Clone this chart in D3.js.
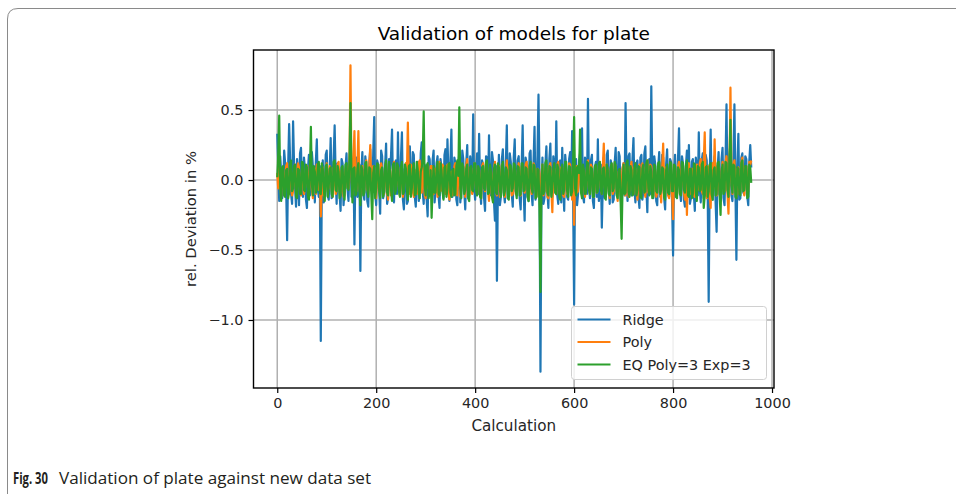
<!DOCTYPE html>
<html>
<head>
<meta charset="utf-8">
<script src="https://cdn.jsdelivr.net/npm/d3@7/dist/d3.min.js"></script>
<style>
  html, body { margin: 0; padding: 0; background: #fff; }
  svg { display: block; }
  .tick text { font-family: "DejaVu Sans", sans-serif; font-size: 14.4px; fill: #262626; }
</style>
</head>
<body>
<svg id="chart" width="956" height="494"></svg>
<script>
// calculation index (every 2nd calculation of the validation set)
var calcStep = 2;
var xTicks = [0, 200, 400, 600, 800, 1000];
var yTicks = [-1.0, -0.5, 0.0, 0.5];

// rel. deviation in %, Ridge model
var ridge = [
  0.33, 0.08, -0.15, 0.17, 0.05, -0.13, -0.08, 0.21, 0.12, -0.06, -0.43, 0.09, 0.40, 0.14, -0.10, -0.17, 0.42, 0.11, -0.05, -0.19,
  0.15, 0.04, -0.18, 0.19, 0.23, -0.09, -0.12, 0.16, 0.08, -0.14, -0.20, 0.07, 0.18, -0.11, -0.06, 0.20, 0.10, 0.02, -0.16, 0.13,
  0.29, -0.07, -0.12, 0.10, -1.15, -0.05, 0.14, -0.16, -0.09, 0.18, 0.21, -0.11, -0.14, 0.07, 0.30, -0.13, -0.05, 0.16, 0.39, 0.03,
  -0.17, 0.12, 0.06, -0.10, -0.22, 0.15, 0.12, -0.18, -0.08, 0.09, 0.19, -0.06, -0.15, 0.13, 0.25, -0.12, -0.10, 0.14, -0.46, 0.08,
  0.16, -0.12, -0.08, 0.11, -0.65, 0.05, 0.20, -0.09, -0.14, 0.17, 0.09, -0.15, -0.19, 0.12, 0.22, -0.04, -0.06, 0.19, 0.45, -0.10,
  -0.18, 0.14, 0.11, -0.08, -0.24, 0.21, 0.17, -0.13, -0.09, 0.10, 0.26, -0.17, -0.13, 0.15, 0.08, 0.18, 0.36, -0.07, -0.16, 0.12,
  0.14, -0.10, 0.34, -0.06, -0.11, 0.16, 0.34, -0.14, -0.21, 0.08, 0.10, -0.17, -0.15, 0.13, 0.24, -0.09, -0.07, 0.20, 0.18, -0.12,
  -0.19, 0.06, 0.13, -0.15, -0.10, 0.19, 0.27, -0.08, -0.17, 0.11, 0.06, -0.14, -0.26, 0.17, 0.15, -0.05, -0.12, 0.14, 0.21, -0.16,
  -0.08, 0.12, 0.17, -0.11, -0.20, 0.15, 0.09, -0.06, -0.13, 0.18, 0.22, -0.10, 0.29, 0.05, -0.15, 0.13, 0.36, -0.12, -0.09, 0.16,
  0.12, -0.14, -0.18, 0.10, 0.20, -0.16, -0.07, 0.21, 0.15, -0.08, -0.21, 0.12, 0.25, -0.13, -0.11, 0.17, 0.08, -0.09, 0.47, -0.05,
  -0.14, 0.08, 0.19, -0.10, 0.33, -0.06, -0.17, 0.14, 0.11, -0.13, -0.22, 0.17, 0.16, -0.07, 0.32, -0.11, -0.09, 0.20, 0.14, -0.15,
  -0.29, 0.10, -0.72, -0.04, 0.18, -0.18, -0.12, 0.15, 0.22, -0.09, -0.16, 0.12, 0.39, -0.13, -0.08, 0.19, 0.13, -0.10, -0.19, 0.16,
  0.29, -0.08, -0.11, 0.14, 0.17, -0.13, -0.21, 0.10, 0.39, -0.07, -0.29, 0.16, 0.12, -0.12, -0.15, 0.19, 0.21, -0.09, -0.18, 0.13,
  0.38, -0.14, -0.10, 0.18, 0.61, 0.05, -1.37, -0.06, 0.16, -0.17, -0.13, 0.11, 0.24, -0.08, -0.20, 0.15, 0.26, -0.10, -0.12, 0.17,
  0.10, -0.09, 0.42, -0.11, -0.17, 0.12, 0.14, -0.16, 0.23, -0.05, -0.22, 0.18, 0.09, -0.12, -0.14, 0.15, 0.20, -0.08, 0.35, -0.13,
  -0.89, 0.06, 0.15, -0.18, -0.10, 0.13, 0.19, -0.07, 0.37, -0.12, -0.16, 0.16, 0.12, -0.10, 0.58, -0.04, -0.13, 0.14, 0.18, -0.15,
  -0.20, 0.09, 0.13, -0.12, 0.29, -0.15, -0.09, 0.11, -0.34, -0.03, 0.16, -0.13, -0.12, 0.18, 0.21, -0.07, -0.17, 0.14, 0.10, -0.16,
  -0.14, 0.12, 0.23, -0.10, -0.08, 0.20, 0.17, -0.14, -0.19, 0.08, 0.12, -0.11, 0.55, 0.02, -0.15, 0.17, 0.19, -0.09, -0.11, 0.15,
  0.30, -0.08, -0.16, 0.12, 0.14, -0.11, -0.20, 0.16, 0.18, -0.14, -0.07, 0.19, 0.24, -0.06, -0.23, 0.13, 0.15, -0.10, 0.67, 0.04,
  -0.13, 0.17, 0.11, -0.15, -0.18, 0.09, 0.20, -0.12, -0.09, 0.18, 0.16, -0.13, -0.21, 0.11, 0.22, -0.07, -0.12, 0.15, 0.13, -0.16,
  -0.54, 0.05, 0.18, -0.12, -0.10, 0.15, 0.37, -0.09, -0.15, 0.17, 0.12, -0.14, -0.19, 0.10, 0.21, -0.08, 0.25, -0.17, -0.13, 0.13,
  0.15, -0.10, -0.22, 0.16, 0.10, -0.11, 0.34, -0.06, -0.16, 0.14, 0.19, -0.13, -0.11, 0.18, 0.14, -0.09, -0.87, 0.02, 0.36, -0.12,
  -0.14, 0.11, 0.17, -0.16, -0.37, 0.08, 0.20, -0.10, -0.12, 0.15, 0.23, -0.13, -0.18, 0.12, 0.54, -0.07, -0.09, 0.18, 0.26, -0.11,
  -0.15, 0.14, 0.54, -0.05, -0.57, 0.10, 0.33, -0.14, -0.13, 0.16, 0.19, -0.09, -0.10, 0.17, 0.15, -0.12, -0.18, 0.13, 0.25, 0.09
];

// Poly model
var poly = [
  0.05, -0.06, 0.10, -0.03, -0.12, 0.07, 0.08, -0.09, -0.05, 0.10, 0.12, -0.07, -0.10, 0.09, 0.06, -0.11, -0.08, 0.05, 0.11, -0.06,
  -0.04, 0.12, 0.09, -0.08, -0.11, 0.06, 0.07, -0.10, -0.06, 0.08, 0.10, -0.05, -0.09, 0.11, 0.04, -0.07, -0.13, 0.09, 0.08, -0.10,
  0.11, -0.05, -0.07, 0.08, -0.26, -0.04, 0.09, -0.11, -0.10, 0.06, 0.12, -0.08, -0.05, 0.10, 0.08, -0.07, -0.12, 0.09, 0.06, -0.10,
  -0.08, 0.11, 0.13, -0.06, -0.09, 0.07, 0.05, -0.12, -0.11, 0.08, 0.10, -0.05, -0.06, 0.12, 0.82, 0.03, -0.10, 0.14, 0.35, -0.07,
  -0.08, 0.09, 0.35, -0.04, -0.12, 0.06, 0.10, -0.09, -0.07, 0.11, 0.14, -0.06, -0.10, 0.08, 0.25, -0.07, -0.05, 0.10, 0.09, -0.11,
  -0.13, 0.05, 0.11, -0.08, -0.06, 0.12, 0.08, -0.10, -0.10, 0.07, 0.12, -0.09, -0.14, 0.06, 0.07, -0.11, -0.09, 0.10, 0.13, -0.05,
  -0.05, 0.08, 0.10, -0.07, -0.11, 0.09, 0.08, -0.12, -0.07, 0.06, 0.12, 0.04, 0.41, -0.02, -0.10, 0.11, 0.09, -0.08, -0.12, 0.07,
  0.06, -0.10, -0.08, 0.12, 0.14, -0.05, -0.09, 0.09, 0.05, -0.11, -0.13, 0.07, 0.11, -0.06, -0.06, 0.10, 0.10, -0.09, -0.10, 0.08,
  0.08, -0.05, -0.12, 0.09, 0.13, -0.08, -0.07, 0.11, 0.09, -0.06, -0.10, 0.07, 0.11, -0.09, -0.14, 0.05, 0.06, -0.11, -0.08, 0.10,
  0.12, -0.07, -0.11, 0.08, 0.07, -0.12, -0.05, 0.09, 0.10, -0.06, -0.12, 0.11, 0.15, -0.08, -0.09, 0.06, 0.08, -0.10, -0.06, 0.12,
  0.11, -0.06, -0.10, 0.08, 0.07, -0.09, -0.13, 0.10, 0.12, -0.05, -0.08, 0.11, 0.09, -0.07, -0.15, 0.06, 0.06, -0.10, -0.07, 0.09,
  0.13, -0.08, -0.11, 0.07, 0.10, -0.12, -0.06, 0.11, 0.08, -0.09, -0.12, 0.05, 0.14, -0.07, -0.09, 0.10, 0.05, -0.11, -0.10, 0.08,
  0.09, -0.10, -0.07, 0.06, 0.12, -0.08, -0.11, 0.10, 0.06, -0.06, -0.09, 0.11, 0.13, -0.07, -0.14, 0.09, 0.08, -0.10, -0.05, 0.12,
  0.10, -0.06, -0.12, 0.08, 0.07, -0.09, -0.16, 0.05, 0.11, -0.11, -0.08, 0.07, 0.09, -0.12, -0.13, 0.10, 0.12, -0.07, -0.23, 0.06,
  0.08, -0.06, -0.10, 0.11, 0.13, -0.08, -0.07, 0.09, 0.09, -0.11, -0.12, 0.07, 0.06, -0.10, -0.09, 0.12, 0.11, -0.05, -0.14, 0.08,
  -0.32, 0.04, 0.10, -0.09, -0.08, 0.10, 0.12, -0.06, -0.11, 0.08, 0.07, -0.12, -0.06, 0.09, 0.14, -0.07, -0.10, 0.11, 0.09, -0.08,
  -0.12, 0.07, 0.08, -0.09, -0.07, 0.10, 0.13, -0.06, -0.10, 0.09, 0.26, -0.05, -0.09, 0.11, 0.06, -0.08, -0.13, 0.07, 0.11, -0.10,
  -0.08, 0.12, 0.10, -0.07, -0.15, 0.06, 0.07, -0.11, -0.06, 0.09, 0.12, -0.08, -0.11, 0.10, 0.09, -0.12, -0.07, 0.08, 0.13, -0.06,
  -0.10, 0.09, 0.08, -0.07, -0.14, 0.06, 0.11, -0.10, -0.06, 0.12, 0.09, -0.08, -0.12, 0.07, 0.14, -0.09, -0.08, 0.11, 0.10, -0.06,
  -0.11, 0.08, 0.07, -0.12, -0.09, 0.10, 0.12, -0.05, -0.16, 0.08, 0.26, -0.07, -0.10, 0.09, 0.08, -0.11, -0.13, 0.06, 0.11, -0.09,
  -0.28, 0.05, 0.09, -0.08, -0.11, 0.10, 0.13, -0.06, -0.07, 0.11, 0.10, -0.09, -0.14, 0.07, -0.25, 0.04, 0.12, -0.10, -0.09, 0.08,
  0.08, -0.11, -0.12, 0.09, 0.11, -0.07, -0.06, 0.12, 0.15, -0.08, -0.10, 0.13, 0.34, -0.05, -0.13, 0.10, 0.07, -0.12, -0.20, 0.09,
  0.12, -0.06, 0.29, -0.04, -0.11, 0.10, 0.09, -0.09, -0.15, 0.07, 0.13, -0.08, -0.08, 0.12, 0.17, -0.10, -0.24, 0.05, 0.66, 0.02,
  -0.10, 0.11, 0.14, -0.07, -0.12, 0.08, 0.09, -0.10, -0.07, 0.12, 0.16, -0.06, -0.11, 0.09, 0.10, -0.08, -0.08, 0.13, 0.11, 0.14
];

// EQ Poly=3 Exp=3 model
var eq = [
  0.02, 0.18, 0.46, -0.05, -0.15, 0.09, 0.10, -0.11, -0.12, 0.07, 0.08, -0.13, -0.09, 0.12, 0.14, -0.08, -0.06, 0.10, 0.11, -0.12,
  -0.13, 0.08, 0.07, -0.10, -0.10, 0.13, 0.12, -0.07, -0.08, 0.11, 0.09, -0.12, -0.14, 0.06, 0.38, -0.03, -0.11, 0.10, 0.06, -0.09,
  -0.07, 0.11, 0.13, -0.09, -0.10, 0.12, 0.08, -0.06, -0.15, 0.10, 0.11, -0.12, -0.05, 0.08, 0.09, -0.10, -0.12, 0.13, 0.14, -0.07,
  -0.08, 0.10, 0.06, -0.13, -0.11, 0.09, 0.10, -0.08, -0.14, 0.11, 0.12, -0.06, -0.07, 0.15, 0.55, 0.02, -0.16, 0.08, 0.09, -0.11,
  -0.10, 0.08, 0.12, -0.07, -0.18, 0.10, 0.07, -0.11, -0.09, 0.12, 0.13, -0.06, -0.12, 0.09, 0.08, -0.10, -0.28, 0.05, 0.10, -0.13,
  -0.06, 0.12, 0.11, -0.08, -0.13, 0.07, 0.09, -0.12, -0.08, 0.10, 0.14, -0.09, -0.11, 0.13, 0.06, -0.07, -0.15, 0.11, 0.12, -0.10,
  -0.07, 0.12, 0.10, -0.08, -0.12, 0.09, 0.13, -0.10, -0.09, 0.11, 0.08, -0.07, -0.14, 0.10, 0.11, -0.12, -0.06, 0.08, 0.12, -0.11,
  -0.10, 0.13, 0.07, -0.09, -0.13, 0.06, 0.09, 0.15, 0.49, -0.04, -0.11, 0.10, 0.12, -0.13, -0.08, 0.07, -0.27, -0.05, 0.10, -0.09,
  -0.09, 0.08, 0.13, -0.10, -0.11, 0.12, 0.07, -0.08, -0.14, 0.09, 0.10, -0.12, -0.06, 0.11, 0.12, -0.09, -0.12, 0.07, 0.08, -0.11,
  -0.10, 0.10, 0.14, 0.03, 0.52, -0.06, -0.13, 0.12, 0.09, -0.10, -0.07, 0.08, 0.11, -0.13, -0.15, 0.09, 0.10, -0.07, -0.08, 0.12,
  0.12, -0.08, -0.11, 0.10, 0.08, -0.12, -0.13, 0.09, 0.10, -0.06, -0.07, 0.13, 0.14, -0.10, -0.09, 0.11, 0.06, -0.12, -0.16, 0.08,
  0.11, -0.09, -0.10, 0.12, 0.09, -0.07, -0.12, 0.10, 0.13, -0.11, -0.08, 0.09, 0.07, -0.13, -0.14, 0.11, 0.10, -0.08, -0.06, 0.12,
  0.11, -0.07, -0.13, 0.10, 0.09, -0.11, -0.10, 0.12, 0.12, -0.08, -0.07, 0.09, 0.08, -0.12, -0.15, 0.10, 0.13, -0.06, -0.09, 0.11,
  0.10, -0.13, -0.12, 0.08, 0.07, -0.20, -0.80, -0.05, 0.11, -0.10, -0.08, 0.12, 0.14, -0.09, -0.11, 0.10, 0.09, -0.12, -0.06, 0.08,
  0.12, -0.09, -0.10, 0.11, 0.08, -0.12, -0.14, 0.07, 0.11, -0.10, -0.07, 0.13, 0.13, -0.08, -0.12, 0.10, 0.09, -0.11, -0.08, 0.12,
  0.45, -0.06, -0.11, 0.09, 0.10, 0.05, 0.36, -0.09, -0.13, 0.11, 0.07, -0.10, -0.09, 0.13, 0.12, -0.07, -0.10, 0.09, 0.08, -0.12,
  -0.12, 0.10, 0.11, -0.09, -0.08, 0.12, 0.13, -0.07, -0.10, 0.08, 0.09, -0.12, -0.14, 0.11, 0.07, -0.10, -0.11, 0.09, 0.12, -0.08,
  -0.06, 0.13, 0.10, -0.11, -0.13, 0.07, 0.08, -0.15, -0.42, -0.02, 0.11, -0.10, -0.09, 0.12, 0.14, -0.08, -0.12, 0.10, 0.07, -0.11,
  -0.10, 0.09, 0.12, -0.11, -0.07, 0.10, 0.09, -0.12, -0.13, 0.08, 0.11, -0.09, -0.08, 0.12, 0.14, -0.06, -0.11, 0.10, 0.06, -0.13,
  -0.12, 0.11, 0.10, -0.08, -0.09, 0.12, 0.13, -0.10, -0.07, 0.09, 0.08, -0.12, -0.14, 0.07, 0.11, -0.09, -0.10, 0.13, 0.12, -0.08,
  -0.08, 0.11, 0.10, -0.12, -0.13, 0.09, 0.07, -0.10, -0.11, 0.13, 0.12, -0.07, -0.09, 0.10, 0.14, -0.11, -0.12, 0.08, 0.08, -0.13,
  -0.10, 0.12, 0.11, -0.09, -0.15, 0.10, 0.09, -0.08, -0.07, 0.11, 0.13, -0.20, -0.11, 0.09, 0.10, -0.12, -0.08, 0.11, 0.12, -0.10,
  -0.14, 0.07, 0.09, -0.11, -0.10, 0.12, 0.13, -0.09, -0.25, 0.06, 0.11, -0.10, -0.08, 0.13, 0.12, -0.07, -0.12, 0.15, 0.43, -0.04,
  -0.09, 0.11, 0.10, -0.12, -0.13, 0.09, 0.08, -0.10, -0.11, 0.12, 0.14, -0.08, -0.07, 0.10, 0.10, -0.13, -0.12, 0.11, 0.09, -0.02
];

var seriesNames = ['Ridge', 'Poly', 'EQ Poly=3 Exp=3'];
var seriesColors = ['#1f77b4', '#ff7f0e', '#2ca02c'];

(function() {
  'use strict';

  var svg = d3.select('#chart');
  var plot = {left: 253.5, right: 774, top: 50, bottom: 388};
  var font = '"DejaVu Sans", sans-serif';

  // figure frame with the rounded corner of the journal box
  svg.append('path')
    .attr('d', 'M7.5,494 L7.5,19 Q7.5,8.5 18,8.5 L956,8.5')
    .attr('fill', 'none')
    .attr('stroke', '#8a8a8a')
    .attr('stroke-width', 1);

  var x = d3.scaleLinear().domain([-48, 1004]).range([plot.left, plot.right]);
  var y = d3.scaleLinear().domain([-1.486, 0.929]).range([plot.bottom, plot.top]);

  // grid
  var grid = svg.append('g').attr('class', 'grid');
  grid.selectAll('line.gx').data(xTicks).enter().append('line')
    .attr('x1', function(d) { return x(d); })
    .attr('x2', function(d) { return x(d); })
    .attr('y1', plot.top).attr('y2', plot.bottom);
  grid.selectAll('line.gy').data(yTicks).enter().append('line')
    .attr('y1', function(d) { return y(d); })
    .attr('y2', function(d) { return y(d); })
    .attr('x1', plot.left).attr('x2', plot.right);
  grid.selectAll('line')
    .attr('stroke', '#b0b0b0')
    .attr('stroke-width', 1.5);

  // series lines, drawn in order so green ends up on top
  var line = d3.line()
    .x(function(d, i) { return x(i * calcStep); })
    .y(function(d) { return y(d); });

  [ridge, poly, eq].forEach(function(values, k) {
    svg.append('path')
      .datum(values)
      .attr('d', line)
      .attr('fill', 'none')
      .attr('stroke', seriesColors[k])
      .attr('stroke-width', 2.2)
      .attr('stroke-linejoin', 'round');
  });

  // axes
  var fmtY = function(d) { return d3.format('.1f')(d).replace('-', '\u2212'); };

  var xAxis = svg.append('g')
    .attr('transform', 'translate(0,' + plot.bottom + ')')
    .call(d3.axisBottom(x).tickValues(xTicks).tickFormat(d3.format('d')).tickSize(5).tickSizeOuter(0).tickPadding(5));
  var yAxis = svg.append('g')
    .attr('transform', 'translate(' + plot.left + ',0)')
    .call(d3.axisLeft(y).tickValues(yTicks).tickFormat(fmtY).tickSize(5).tickSizeOuter(0).tickPadding(5));

  [xAxis, yAxis].forEach(function(ax) {
    ax.select('.domain').remove();
    ax.selectAll('.tick line').attr('stroke', '#000').attr('stroke-width', 1.2);
  });

  // spines
  svg.append('rect')
    .attr('x', plot.left).attr('y', plot.top)
    .attr('width', plot.right - plot.left)
    .attr('height', plot.bottom - plot.top)
    .attr('fill', 'none')
    .attr('stroke', '#000')
    .attr('stroke-width', 1.4);

  // title and labels
  var midX = (plot.left + plot.right) / 2;
  var midY = (plot.top + plot.bottom) / 2;

  svg.append('text')
    .attr('x', midX).attr('y', 40)
    .attr('text-anchor', 'middle')
    .style('font-family', font).style('font-size', '18.5px').attr('fill', '#000')
    .text('Validation of models for plate');

  svg.append('text')
    .attr('x', midX).attr('y', 431)
    .attr('text-anchor', 'middle')
    .style('font-family', font).style('font-size', '15.2px').attr('fill', '#262626')
    .text('Calculation');

  svg.append('text')
    .attr('transform', 'translate(196,' + midY + ') rotate(-90)')
    .attr('text-anchor', 'middle')
    .style('font-family', font).style('font-size', '14.8px').attr('fill', '#262626')
    .text('rel. Deviation in %');

  // legend
  var legend = svg.append('g').attr('transform', 'translate(571.5,306.5)');
  legend.append('rect')
    .attr('width', 195).attr('height', 73)
    .attr('rx', 3).attr('ry', 3)
    .attr('fill', '#fff').attr('fill-opacity', 0.8)
    .attr('stroke', '#d0d0d0').attr('stroke-width', 1);

  var items = legend.selectAll('g.item').data(seriesNames).enter().append('g')
    .attr('transform', function(d, i) { return 'translate(0,' + (13 + i * 22.5) + ')'; });
  items.append('line')
    .attr('x1', 6).attr('x2', 39)
    .attr('stroke', function(d, i) { return seriesColors[i]; })
    .attr('stroke-width', 2.2);
  items.append('text')
    .attr('x', 51).attr('y', 5)
    .style('font-family', font).style('font-size', '14.4px').attr('fill', '#262626')
    .text(function(d) { return d; });

  // caption below the figure
  svg.append('text')
    .attr('x', 13).attr('y', 484)
    .attr('textLength', 35).attr('lengthAdjust', 'spacingAndGlyphs')
    .style('font-family', '"Open Sans", sans-serif').style('font-size', '16px')
    .style('font-weight', 'bold').attr('fill', '#231f20')
    .text('Fig. 30');
  svg.append('text')
    .attr('x', 59).attr('y', 484)
    .attr('textLength', 312).attr('lengthAdjust', 'spacingAndGlyphs')
    .style('font-family', '"Open Sans", sans-serif').style('font-size', '16px')
    .attr('fill', '#231f20')
    .text('Validation of plate against new data set');
})();
</script>
</body>
</html>
